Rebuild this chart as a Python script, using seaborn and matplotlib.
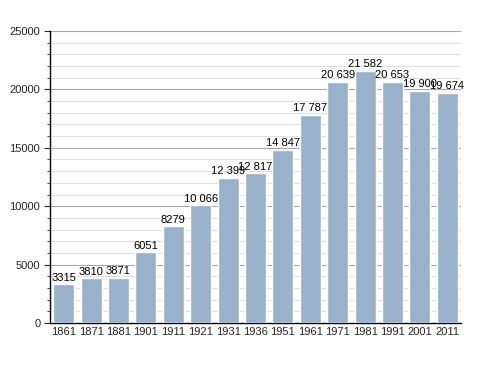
import matplotlib
matplotlib.use("Agg")
import matplotlib.pyplot as plt
import seaborn as sns
import pandas as pd
from matplotlib.ticker import MultipleLocator

years = ["1861", "1871", "1881", "1901", "1911", "1921", "1931", "1936",
         "1951", "1961", "1971", "1981", "1991", "2001", "2011"]
population = [3315, 3810, 3871, 6051, 8279, 10066, 12399, 12817,
              14847, 17787, 20639, 21582, 20653, 19900, 19674]

df = pd.DataFrame({"year": years, "pop": population})

sns.set_style("white")
plt.rcParams["font.family"] = ["Liberation Sans", "DejaVu Sans"]

fig = plt.figure(figsize=(4.88, 3.73), dpi=100)
ax = fig.add_axes([50 / 488, 50 / 373, 411 / 488, 292 / 373])

sns.barplot(data=df, x="year", y="pop", color="#9ab1cc", saturation=1,
            width=0.76, ax=ax, zorder=3)

ax.set_ylim(0, 25000)
ax.set_xlim(-0.5, len(years) - 0.5)
ax.yaxis.set_major_locator(MultipleLocator(5000))
ax.yaxis.set_minor_locator(MultipleLocator(1000))
ax.grid(which="major", axis="y", color="#a8a8a8", linewidth=0.8, zorder=0)
ax.grid(which="minor", axis="y", color="#e0e0e0", linewidth=0.8, zorder=0)
ax.set_axisbelow(True)

for s in ["top", "right"]:
    ax.spines[s].set_visible(False)
ax.spines["left"].set_color("black")
ax.spines["bottom"].set_color("black")
ax.spines["left"].set_linewidth(1.0)
ax.spines["bottom"].set_linewidth(1.0)

ax.tick_params(axis="y", which="major", direction="out", length=4, width=0.8,
               labelsize=8, left=True, pad=3)
ax.tick_params(axis="y", which="minor", direction="out", length=2.5, width=0.6,
               left=True)
ax.tick_params(axis="x", length=0, labelsize=8, pad=3)
ax.set_xlabel("")
ax.set_ylabel("")


def fmt(v):
    if v >= 10000:
        s = f"{v:d}"
        return s[:-3] + " " + s[-3:]
    return str(v)


for i, v in enumerate(population):
    ax.text(i, v + 150, fmt(v), ha="center", va="bottom", fontsize=8,
            color="black", zorder=5)

fig.savefig("out.png", dpi=100)
